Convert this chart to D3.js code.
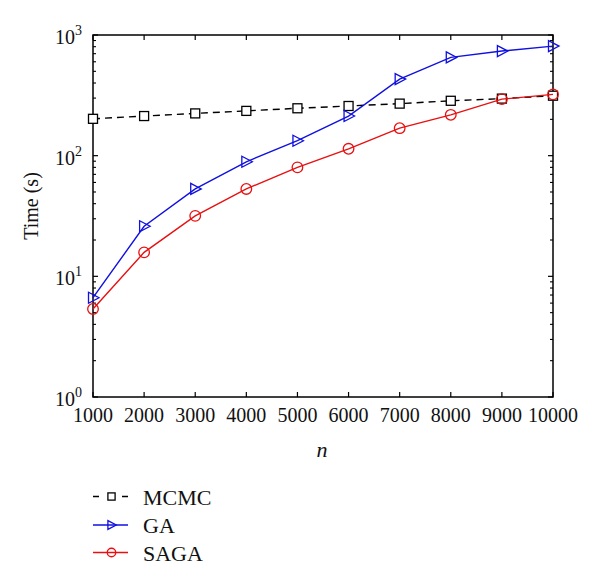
<!DOCTYPE html>
<html><head><meta charset="utf-8">
<script src="https://cdn.jsdelivr.net/npm/d3@7"></script>
<style>body{margin:0;background:#fff}svg{display:block}text{font-family:"Liberation Serif","Times New Roman",serif;fill:#111}</style>
</head><body>
<svg id="c" width="600" height="587"></svg>
<script>
const nValues = [1000,2000,3000,4000,5000,6000,7000,8000,9000,10000];
const mcmc = [202,213,224,235,247,258,270,285,297,314];
const ga = [6.65,26,53,89,133,213,431,652,736,809];
const saga = [5.36,15.8,31.7,53,80,114,169,218,294,322];
const yTickExps = [0,1,2,3];
const seriesNames = ["MCMC","GA","SAGA"];

const svg = d3.select("#c");
const L=93,R=553,T=35,B=397;
const x = d3.scaleLinear().domain([1000,10000]).range([L,R]);
const y = d3.scaleLog().domain([1,1000]).range([B,T]);

const g = svg.append("g");
g.append("rect").attr("x",L).attr("y",T).attr("width",R-L).attr("height",B-T)
 .attr("fill","none").attr("stroke","#000").attr("stroke-width",1.5);

nValues.forEach(v=>{
  const px=x(v);
  g.append("line").attr("x1",px).attr("x2",px).attr("y1",B).attr("y2",B-5).attr("stroke","#000").attr("stroke-width",1.2);
  g.append("line").attr("x1",px).attr("x2",px).attr("y1",T).attr("y2",T+5).attr("stroke","#000").attr("stroke-width",1.2);
  g.append("text").attr("x",px).attr("y",422).attr("text-anchor","middle").attr("font-size",20).text(v);
});
yTickExps.forEach(e=>{
  const v=Math.pow(10,e), py=y(v);
  g.append("line").attr("x1",L).attr("x2",L+5).attr("y1",py).attr("y2",py).attr("stroke","#000").attr("stroke-width",1.2);
  g.append("line").attr("x1",R).attr("x2",R-5).attr("y1",py).attr("y2",py).attr("stroke","#000").attr("stroke-width",1.2);
  const t=g.append("text").attr("x",82).attr("y",py+9).attr("text-anchor","end").attr("font-size",20);
  t.append("tspan").text("10");
  t.append("tspan").attr("dy",-9).attr("font-size",14).text(e);
  if(e<3){
    for(let k=2;k<=9;k++){
      const pm=y(v*k);
      g.append("line").attr("x1",L).attr("x2",L+3).attr("y1",pm).attr("y2",pm).attr("stroke","#000").attr("stroke-width",1.1);
      g.append("line").attr("x1",R).attr("x2",R-3).attr("y1",pm).attr("y2",pm).attr("stroke","#000").attr("stroke-width",1.1);
    }
  }
});
g.append("text").attr("transform","translate(38,206) rotate(-90)").attr("text-anchor","middle").attr("font-size",20).text("Time (s)");
g.append("text").attr("x",322).attr("y",457).attr("text-anchor","middle").attr("font-size",22).attr("font-style","italic").text("n");

const line = d3.line().x((d,i)=>x(nValues[i])).y(d=>y(d));
const cols = {MCMC:"#000",GA:"#1010e0",SAGA:"#e81010"};

function marker(sel,name,cx,cy,s){
  if(name==="MCMC"){
    sel.append("rect").attr("x",cx-4.5*s).attr("y",cy-4.5*s).attr("width",9*s).attr("height",9*s).attr("fill","#fff").attr("stroke",cols[name]).attr("stroke-width",1.3);
  } else if(name==="GA"){
    sel.append("path").attr("d",`M${cx-4.5*s},${cy-5.5*s}L${cx+6*s},${cy}L${cx-4.5*s},${cy+5.5*s}Z`).attr("fill","none").attr("stroke",cols[name]).attr("stroke-width",1.3);
  } else {
    sel.append("circle").attr("cx",cx).attr("cy",cy).attr("r",5.3*s).attr("fill","none").attr("stroke",cols[name]).attr("stroke-width",1.3);
  }
}
const data = {MCMC:mcmc,GA:ga,SAGA:saga};
seriesNames.forEach(name=>{
  g.append("path").attr("d",line(data[name])).attr("fill","none").attr("stroke",cols[name]).attr("stroke-width",1.4)
   .attr("stroke-dasharray",name==="MCMC"?"7,5":null);
  data[name].forEach((v,i)=>marker(g,name,x(nValues[i]),y(v),1));
});

const ly=[496.5,525,552.5];
seriesNames.forEach((name,i)=>{
  g.append("line").attr("x1",93).attr("x2",128).attr("y1",ly[i]).attr("y2",ly[i]).attr("stroke",cols[name]).attr("stroke-width",1.6)
   .attr("stroke-dasharray",name==="MCMC"?"6,23":null);
  marker(g,name,111.5,ly[i],0.8);
  g.append("text").attr("x",143).attr("y",ly[i]+8).attr("font-size",22).text(name);
});
</script>
</body></html>
